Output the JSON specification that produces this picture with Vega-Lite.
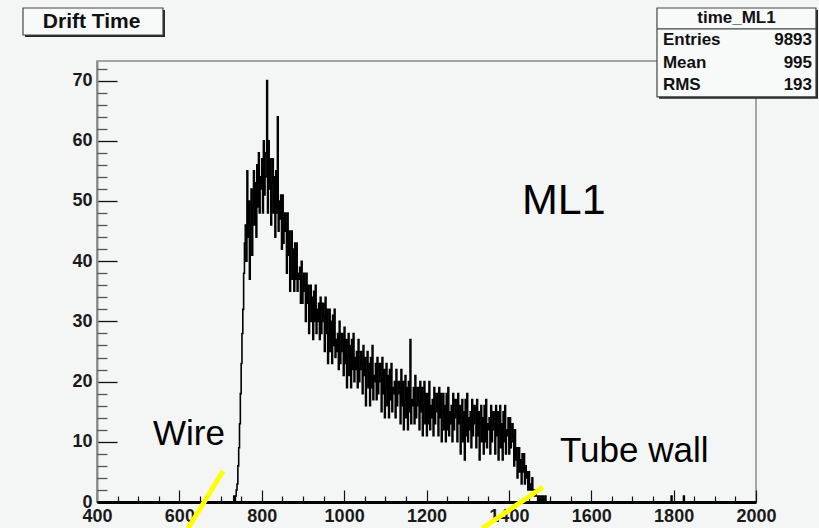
{
"$schema":"https://vega.github.io/schema/vega-lite/v6.json",
"width":659,"height":441,
"autosize":{"type":"none"},
"padding":{"left":97,"top":61,"right":63,"bottom":26},
"background":"#f4f6f6",
"config":{"view":{"stroke":"#8a8a8a","strokeWidth":1.5,"fill":"#f4f6f6"},"font":"Liberation Sans"},
"resolve":{"axis":{"x":"independent","y":"independent"}},
"datasets":{
"hist":[{"t":400,"n":0},{"t":720,"n":0},{"t":732,"n":1},{"t":734,"n":0},{"t":736,"n":1},{"t":738,"n":2},{"t":740,"n":3},{"t":742,"n":6},{"t":744,"n":9},{"t":746,"n":13},{"t":748,"n":18},{"t":750,"n":23},{"t":752,"n":28},{"t":754,"n":32},{"t":756,"n":38},{"t":758,"n":43},{"t":760,"n":46},{"t":762,"n":40},{"t":764,"n":55},{"t":766,"n":44},{"t":768,"n":50},{"t":770,"n":37},{"t":772,"n":46},{"t":774,"n":52},{"t":776,"n":41},{"t":778,"n":49},{"t":780,"n":55},{"t":782,"n":46},{"t":784,"n":53},{"t":786,"n":44},{"t":788,"n":56},{"t":790,"n":49},{"t":792,"n":58},{"t":794,"n":48},{"t":796,"n":54},{"t":798,"n":52},{"t":800,"n":57},{"t":802,"n":48},{"t":804,"n":60},{"t":806,"n":51},{"t":808,"n":54},{"t":810,"n":58},{"t":812,"n":70},{"t":814,"n":48},{"t":816,"n":60},{"t":818,"n":52},{"t":820,"n":57},{"t":822,"n":46},{"t":824,"n":53},{"t":826,"n":57},{"t":828,"n":48},{"t":830,"n":54},{"t":832,"n":44},{"t":834,"n":55},{"t":836,"n":48},{"t":838,"n":64},{"t":840,"n":45},{"t":842,"n":50},{"t":844,"n":47},{"t":846,"n":51},{"t":848,"n":42},{"t":850,"n":51},{"t":852,"n":43},{"t":854,"n":45},{"t":856,"n":48},{"t":858,"n":45},{"t":860,"n":38},{"t":862,"n":48},{"t":864,"n":41},{"t":866,"n":45},{"t":868,"n":35},{"t":870,"n":42},{"t":872,"n":45},{"t":874,"n":37},{"t":876,"n":42},{"t":878,"n":35},{"t":880,"n":43},{"t":882,"n":37},{"t":884,"n":43},{"t":886,"n":35},{"t":888,"n":38},{"t":890,"n":37},{"t":892,"n":39},{"t":894,"n":33},{"t":896,"n":40},{"t":898,"n":33},{"t":900,"n":35},{"t":902,"n":38},{"t":904,"n":36},{"t":906,"n":30},{"t":908,"n":38},{"t":910,"n":33},{"t":912,"n":36},{"t":914,"n":28},{"t":916,"n":33},{"t":918,"n":36},{"t":920,"n":30},{"t":922,"n":34},{"t":924,"n":27},{"t":926,"n":35},{"t":928,"n":30},{"t":930,"n":36},{"t":932,"n":28},{"t":934,"n":32},{"t":936,"n":30},{"t":938,"n":33},{"t":940,"n":27},{"t":942,"n":34},{"t":944,"n":28},{"t":946,"n":30},{"t":948,"n":33},{"t":950,"n":31},{"t":952,"n":25},{"t":954,"n":34},{"t":956,"n":28},{"t":958,"n":32},{"t":960,"n":23},{"t":962,"n":28},{"t":964,"n":32},{"t":966,"n":25},{"t":968,"n":30},{"t":970,"n":23},{"t":972,"n":31},{"t":974,"n":26},{"t":976,"n":32},{"t":978,"n":24},{"t":980,"n":27},{"t":982,"n":25},{"t":984,"n":28},{"t":986,"n":22},{"t":988,"n":30},{"t":990,"n":23},{"t":992,"n":25},{"t":994,"n":28},{"t":996,"n":27},{"t":998,"n":21},{"t":1000,"n":29},{"t":1002,"n":23},{"t":1004,"n":27},{"t":1006,"n":19},{"t":1008,"n":24},{"t":1010,"n":28},{"t":1012,"n":21},{"t":1014,"n":26},{"t":1016,"n":19},{"t":1018,"n":27},{"t":1020,"n":22},{"t":1022,"n":28},{"t":1024,"n":20},{"t":1026,"n":24},{"t":1028,"n":22},{"t":1030,"n":25},{"t":1032,"n":19},{"t":1034,"n":27},{"t":1036,"n":20},{"t":1038,"n":22},{"t":1040,"n":25},{"t":1042,"n":23},{"t":1044,"n":18},{"t":1046,"n":26},{"t":1048,"n":21},{"t":1050,"n":24},{"t":1052,"n":16},{"t":1054,"n":22},{"t":1056,"n":25},{"t":1058,"n":19},{"t":1060,"n":23},{"t":1062,"n":16},{"t":1064,"n":24},{"t":1066,"n":19},{"t":1068,"n":26},{"t":1070,"n":17},{"t":1072,"n":21},{"t":1074,"n":20},{"t":1076,"n":23},{"t":1078,"n":17},{"t":1080,"n":24},{"t":1082,"n":18},{"t":1084,"n":20},{"t":1086,"n":23},{"t":1088,"n":21},{"t":1090,"n":15},{"t":1092,"n":24},{"t":1094,"n":18},{"t":1096,"n":22},{"t":1098,"n":14},{"t":1100,"n":19},{"t":1102,"n":23},{"t":1104,"n":16},{"t":1106,"n":21},{"t":1108,"n":14},{"t":1110,"n":22},{"t":1112,"n":17},{"t":1114,"n":23},{"t":1116,"n":15},{"t":1118,"n":19},{"t":1120,"n":18},{"t":1122,"n":20},{"t":1124,"n":14},{"t":1126,"n":22},{"t":1128,"n":16},{"t":1130,"n":18},{"t":1132,"n":20},{"t":1134,"n":19},{"t":1136,"n":13},{"t":1138,"n":22},{"t":1140,"n":16},{"t":1142,"n":20},{"t":1144,"n":12},{"t":1146,"n":17},{"t":1148,"n":21},{"t":1150,"n":14},{"t":1152,"n":19},{"t":1154,"n":12},{"t":1156,"n":20},{"t":1158,"n":15},{"t":1160,"n":27},{"t":1162,"n":13},{"t":1164,"n":17},{"t":1166,"n":16},{"t":1168,"n":19},{"t":1170,"n":13},{"t":1172,"n":21},{"t":1174,"n":14},{"t":1176,"n":16},{"t":1178,"n":19},{"t":1180,"n":17},{"t":1182,"n":12},{"t":1184,"n":20},{"t":1186,"n":15},{"t":1188,"n":19},{"t":1190,"n":11},{"t":1192,"n":16},{"t":1194,"n":20},{"t":1196,"n":13},{"t":1198,"n":18},{"t":1200,"n":11},{"t":1202,"n":18},{"t":1204,"n":13},{"t":1206,"n":20},{"t":1208,"n":12},{"t":1210,"n":16},{"t":1212,"n":14},{"t":1214,"n":17},{"t":1216,"n":11},{"t":1218,"n":19},{"t":1220,"n":13},{"t":1222,"n":15},{"t":1224,"n":18},{"t":1226,"n":16},{"t":1228,"n":11},{"t":1230,"n":19},{"t":1232,"n":14},{"t":1234,"n":18},{"t":1236,"n":10},{"t":1238,"n":15},{"t":1240,"n":18},{"t":1242,"n":12},{"t":1244,"n":16},{"t":1246,"n":10},{"t":1248,"n":18},{"t":1250,"n":12},{"t":1252,"n":19},{"t":1254,"n":11},{"t":1256,"n":15},{"t":1258,"n":13},{"t":1260,"n":16},{"t":1262,"n":10},{"t":1264,"n":18},{"t":1266,"n":12},{"t":1268,"n":14},{"t":1270,"n":17},{"t":1272,"n":15},{"t":1274,"n":10},{"t":1276,"n":18},{"t":1278,"n":13},{"t":1280,"n":16},{"t":1282,"n":8},{"t":1284,"n":14},{"t":1286,"n":17},{"t":1288,"n":10},{"t":1290,"n":15},{"t":1292,"n":7},{"t":1294,"n":17},{"t":1296,"n":11},{"t":1298,"n":18},{"t":1300,"n":10},{"t":1302,"n":14},{"t":1304,"n":12},{"t":1306,"n":15},{"t":1308,"n":9},{"t":1310,"n":17},{"t":1312,"n":11},{"t":1314,"n":13},{"t":1316,"n":16},{"t":1318,"n":14},{"t":1320,"n":9},{"t":1322,"n":17},{"t":1324,"n":11},{"t":1326,"n":15},{"t":1328,"n":7},{"t":1330,"n":13},{"t":1332,"n":16},{"t":1334,"n":10},{"t":1336,"n":14},{"t":1338,"n":8},{"t":1340,"n":16},{"t":1342,"n":10},{"t":1344,"n":17},{"t":1346,"n":9},{"t":1348,"n":13},{"t":1350,"n":12},{"t":1352,"n":14},{"t":1354,"n":8},{"t":1356,"n":16},{"t":1358,"n":10},{"t":1360,"n":12},{"t":1362,"n":15},{"t":1364,"n":13},{"t":1366,"n":8},{"t":1368,"n":16},{"t":1370,"n":11},{"t":1372,"n":15},{"t":1374,"n":7},{"t":1376,"n":12},{"t":1378,"n":16},{"t":1380,"n":9},{"t":1382,"n":13},{"t":1384,"n":7},{"t":1386,"n":15},{"t":1388,"n":10},{"t":1390,"n":16},{"t":1392,"n":8},{"t":1394,"n":12},{"t":1396,"n":11},{"t":1398,"n":14},{"t":1400,"n":8},{"t":1402,"n":14},{"t":1404,"n":9},{"t":1406,"n":10},{"t":1408,"n":13},{"t":1410,"n":11},{"t":1412,"n":6},{"t":1414,"n":12},{"t":1416,"n":7},{"t":1418,"n":9},{"t":1420,"n":4},{"t":1422,"n":7},{"t":1424,"n":9},{"t":1426,"n":5},{"t":1428,"n":7},{"t":1430,"n":3},{"t":1432,"n":8},{"t":1434,"n":5},{"t":1436,"n":8},{"t":1438,"n":3},{"t":1440,"n":6},{"t":1442,"n":4},{"t":1444,"n":5},{"t":1446,"n":2},{"t":1448,"n":5},{"t":1450,"n":2},{"t":1452,"n":3},{"t":1454,"n":2},{"t":1456,"n":4},{"t":1458,"n":2},{"t":1460,"n":2},{"t":1462,"n":1},{"t":1464,"n":2},{"t":1466,"n":1},{"t":1468,"n":1},{"t":1470,"n":0},{"t":1472,"n":1},{"t":1474,"n":0},{"t":1476,"n":1},{"t":1478,"n":0},{"t":1482,"n":1},{"t":1484,"n":0},{"t":1488,"n":1},{"t":1490,"n":0},{"t":1794,"n":1},{"t":1796,"n":0},{"t":1824,"n":1},{"t":1826,"n":0},{"t":2000,"n":0}],
"pointers":[{"g":"wire","t":706,"n":5.15},{"g":"wire","t":621,"n":-4.4},{"g":"wall","t":1483,"n":2.5},{"g":"wall","t":1335,"n":-4.4}],
"stats":[{"k":"Entries","v":"9893","n":76.74},{"k":"Mean","v":"995","n":72.92},{"k":"RMS","v":"193","n":69.26}],
"one":[{}]
},
"layer":[
{"data":{"name":"hist"},
 "mark":{"type":"line","interpolate":"step-after","color":"#000","strokeWidth":1.6,"clip":false},
 "encoding":{
  "x":{"field":"t","type":"quantitative","scale":{"domain":[400,2000],"nice":false,"zero":false},
   "axis":{"title":null,"grid":false,"orient":"bottom","values":[400,600,800,1000,1200,1400,1600,1800,2000],
    "format":"d","tickSize":-12,"tickColor":"#111","tickWidth":1.2,"domainColor":"#000","domainWidth":3,
    "labelFont":"Liberation Sans","labelFontWeight":"bold","labelFontSize":18,"labelColor":"#1a1a1a","labelPadding":17,"labelFlush":false,"labelOverlap":false}},
  "y":{"field":"n","type":"quantitative","scale":{"domain":[0,73.25],"nice":false,"zero":false},
   "axis":{"title":null,"grid":false,"orient":"left","values":[0,10,20,30,40,50,60,70],
    "format":"d","tickSize":-20,"tickColor":"#111","tickWidth":1.3,"domainColor":"#8a8a8a","domainWidth":2,
    "labelFont":"Liberation Sans","labelFontWeight":"bold","labelFontSize":18,"labelColor":"#1a1a1a","labelPadding":25,"labelFlush":false,"labelOverlap":false}}
 }},
{"data":{"name":"pointers"},
 "mark":{"type":"line","color":"#ffff00","strokeWidth":5,"clip":false,"strokeCap":"butt"},
 "encoding":{
  "x":{"field":"t","type":"quantitative","axis":{"title":null,"grid":false,"orient":"bottom","values":[450,500,550,650,700,750,850,900,950,1050,1100,1150,1250,1300,1350,1450,1500,1550,1650,1700,1750,1850,1900,1950],"labels":false,"domain":false,"tickSize":-6,"tickColor":"#111","tickWidth":1.2}},
  "y":{"field":"n","type":"quantitative","axis":{"title":null,"grid":false,"orient":"left","values":[2,4,6,8,12,14,16,18,22,24,26,28,32,34,36,38,42,44,46,48,52,54,56,58,62,64,66,68,72],"labels":false,"domain":false,"tickSize":-10,"tickColor":"#555","tickWidth":1.3}},
  "detail":{"field":"g"}}},
{"data":{"values":[{"label":"ML1","t":1432,"n":47.9}]},
 "mark":{"type":"text","font":"Liberation Sans","fontSize":43,"align":"left","baseline":"alphabetic","color":"#000","clip":false},
 "encoding":{"x":{"field":"t","type":"quantitative","axis":null},"y":{"field":"n","type":"quantitative","axis":null},"text":{"field":"label"}}},
{"data":{"values":[{"label":"Wire","t":536,"n":9.4},{"label":"Tube wall","t":1524,"n":6.6}]},
 "mark":{"type":"text","font":"Liberation Sans","fontSize":35,"align":"left","baseline":"alphabetic","color":"#000","clip":false},
 "encoding":{"x":{"field":"t","type":"quantitative","axis":null},"y":{"field":"n","type":"quantitative","axis":null},"text":{"field":"label"}}},
{"data":{"name":"one"},
 "mark":{"type":"rect","fill":"#222","clip":false},
 "encoding":{"x":{"datum":225,"axis":null},"x2":{"datum":565},"y":{"datum":81.72,"axis":null},"y2":{"datum":77.24}}},
{"data":{"name":"one"},
 "mark":{"type":"rect","fill":"#f8f9f9","stroke":"#444","strokeWidth":1.2,"clip":false},
 "encoding":{"x":{"datum":220.3,"axis":null},"x2":{"datum":560.2},"y":{"datum":82.05,"axis":null},"y2":{"datum":77.57}}},
{"data":{"name":"one"},
 "mark":{"type":"text","font":"Liberation Sans","fontWeight":"bold","fontSize":21,"align":"center","baseline":"middle","color":"#111","clip":false},
 "encoding":{"x":{"datum":387,"axis":null},"y":{"datum":79.7,"axis":null},"text":{"value":"Drift Time"}}},
{"data":{"name":"one"},
 "mark":{"type":"rect","fill":"#222","clip":false},
 "encoding":{"x":{"datum":1764.5,"axis":null},"x2":{"datum":2150.5},"y":{"datum":81.72,"axis":null},"y2":{"datum":66.97}}},
{"data":{"name":"one"},
 "mark":{"type":"rect","fill":"#f8f9f9","stroke":"#444","strokeWidth":1.2,"clip":false},
 "encoding":{"x":{"datum":1759.6,"axis":null},"x2":{"datum":2145.6},"y":{"datum":82.05,"axis":null},"y2":{"datum":67.3}}},
{"data":{"name":"one"},
 "mark":{"type":"rule","color":"#444","strokeWidth":1.2,"clip":false},
 "encoding":{"x":{"datum":1759.6,"axis":null},"x2":{"datum":2145.6},"y":{"datum":78.57,"axis":null}}},
{"data":{"name":"one"},
 "mark":{"type":"text","font":"Liberation Sans","fontWeight":"bold","fontSize":17,"align":"center","baseline":"middle","color":"#111","clip":false},
 "encoding":{"x":{"datum":1952.6,"axis":null},"y":{"datum":80.4,"axis":null},"text":{"value":"time_ML1"}}},
{"data":{"name":"stats"},
 "mark":{"type":"text","font":"Liberation Sans","fontWeight":"bold","fontSize":17,"align":"left","baseline":"middle","color":"#111","clip":false},
 "encoding":{"x":{"datum":1774,"axis":null},"y":{"field":"n","type":"quantitative","axis":null},"text":{"field":"k"}}},
{"data":{"name":"stats"},
 "mark":{"type":"text","font":"Liberation Sans","fontWeight":"bold","fontSize":17,"align":"right","baseline":"middle","color":"#111","clip":false},
 "encoding":{"x":{"datum":2136,"axis":null},"y":{"field":"n","type":"quantitative","axis":null},"text":{"field":"v"}}}
]
}
